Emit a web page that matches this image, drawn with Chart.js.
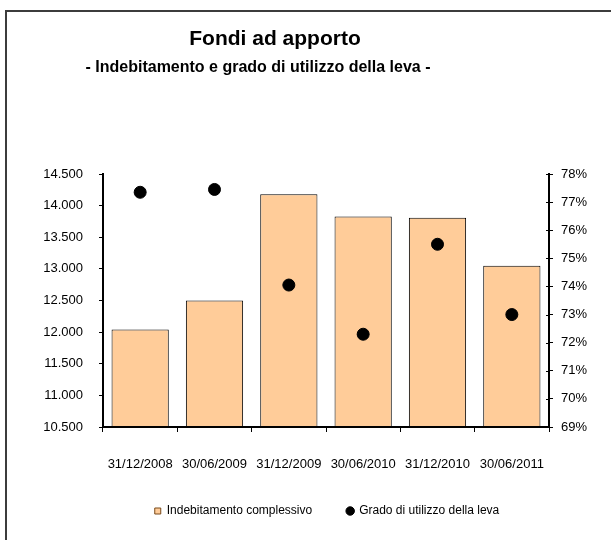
<!DOCTYPE html>
<html>
<head>
<meta charset="utf-8">
<script src="https://cdn.jsdelivr.net/npm/chart.js@4.4.1/dist/chart.umd.min.js"></script>
<style>
  html, body { margin: 0; padding: 0; background: #fff; overflow: hidden; width: 611px; height: 540px; }
  #frame { position: absolute; left: 5px; top: 10px; width: 700px; height: 700px; border: 2px solid #3c3c3c; }
  #c { position: absolute; left: 0; top: 0; }
</style>
</head>
<body>
<div id="frame"></div>
<canvas id="c" width="611" height="540"></canvas>
<script>
// ---- Data ----
const categories = ['31/12/2008', '30/06/2009', '31/12/2009', '30/06/2010', '31/12/2010', '30/06/2011'];
const debtValues = [12040, 12500, 14180, 13830, 13810, 13050];      // Indebitamento complessivo
const leverageValues = [77.35, 77.45, 74.05, 72.3, 75.5, 73.0];     // Grado di utilizzo della leva (%)
const seriesNames = ['Indebitamento complessivo', 'Grado di utilizzo della leva'];
const debtAxisRange = [10500, 14500, 500];
const pctAxisRange = [69, 78, 1];
const titleText = 'Fondi ad apporto';
const subtitleText = '- Indebitamento e grado di utilizzo della leva -';

const FONT = '"Liberation Sans", Arial, sans-serif';

function itNum(v) {
  return String(v).replace(/\B(?=(\d{3})+(?!\d))/g, '.');
}

const titlePlugin = {
  id: 'fixedTitles',
  afterDraw(chart) {
    const ctx = chart.ctx;
    ctx.save();
    ctx.fillStyle = '#000';
    ctx.textAlign = 'center';
    ctx.textBaseline = 'alphabetic';
    ctx.font = 'bold 21px ' + FONT;
    ctx.fillText(titleText, 275, 45);
    ctx.font = 'bold 16px ' + FONT;
    ctx.fillText(subtitleText, 258, 72);
    ctx.restore();
  }
};

// Re-draw axis lines over the bars, and add inner tick halves on the right axis
const axisOnTopPlugin = {
  id: 'axisOnTop',
  afterDatasetsDraw(chart) {
    ['x', 'y', 'y1'].forEach(id => {
      const s = chart.scales[id];
      if (s && typeof s.drawBorder === 'function') s.drawBorder();
    });
    const s = chart.scales.y1;
    const ctx = chart.ctx;
    ctx.save();
    ctx.strokeStyle = '#000';
    ctx.lineWidth = 1;
    s.ticks.forEach((t, i) => {
      const py = Math.round(s.getPixelForTick(i)) + 0.5;
      ctx.beginPath();
      ctx.moveTo(s.left - 3, py);
      ctx.lineTo(s.left, py);
      ctx.stroke();
    });
    ctx.restore();
  }
};

new Chart(document.getElementById('c'), {
  data: {
    labels: categories,
    datasets: [
      {
        type: 'line',
        label: seriesNames[1],
        data: leverageValues,
        yAxisID: 'y1',
        showLine: false,
        pointStyle: 'circle',
        pointRadius: 6,
        pointHoverRadius: 6,
        pointBackgroundColor: '#000',
        pointBorderColor: '#000',
        backgroundColor: '#000',
        borderColor: '#000',
        borderWidth: 1,
        order: 0
      },
      {
        type: 'bar',
        label: seriesNames[0],
        data: debtValues,
        yAxisID: 'y',
        backgroundColor: '#FFCC99',
        borderColor: '#000',
        borderWidth: 1,
        borderSkipped: false,
        barPercentage: 0.77,
        categoryPercentage: 1.0,
        order: 1
      }
    ]
  },
  options: {
    responsive: false,
    animation: false,
    events: [],
    layout: { padding: { top: 174, left: 43, right: 0, bottom: 13 } },
    plugins: {
      title: { display: false },
      tooltip: { enabled: false },
      legend: {
        position: 'bottom',
        reverse: true,
        labels: {
          usePointStyle: true,
          boxWidth: 6,
          boxHeight: 6,
          padding: 35,
          color: '#000',
          font: { family: FONT, size: 12 },
          generateLabels(chart) {
            const items = Chart.defaults.plugins.legend.labels.generateLabels(chart);
            items.forEach(it => {
              const ds = chart.data.datasets[it.datasetIndex];
              if (ds.type === 'bar') {
                it.pointStyle = 'rect';
                it.fillStyle = '#FFCC99';
                it.strokeStyle = '#7a4a1a';
                it.lineWidth = 1;
              } else {
                it.pointStyle = 'circle';
                it.fillStyle = '#000';
                it.strokeStyle = '#000';
              }
            });
            return items;
          }
        }
      }
    },
    scales: {
      x: {
        type: 'category',
        offset: true,
        grid: { display: true, drawOnChartArea: false, drawTicks: true, tickLength: 5, color: '#000', offset: true, lineWidth: 1 },
        border: { display: true, color: '#000', width: 2 },
        ticks: { color: '#000', font: { family: FONT, size: 13 }, padding: 25, maxRotation: 0, autoSkip: false },
        afterFit(scale) { scale.height = 43; }
      },
      y: {
        position: 'left',
        min: debtAxisRange[0],
        max: debtAxisRange[1],
        grid: { display: true, drawOnChartArea: false, drawTicks: true, tickLength: 4, color: '#000', lineWidth: 1 },
        border: { display: true, color: '#000', width: 2 },
        ticks: { stepSize: debtAxisRange[2], color: '#000', font: { family: FONT, size: 13 }, padding: 16, callback: v => itNum(v) },
        afterFit(scale) { scale.width = 60; }
      },
      y1: {
        position: 'right',
        min: pctAxisRange[0],
        max: pctAxisRange[1],
        grid: { display: true, drawOnChartArea: false, drawTicks: true, tickLength: 4, color: '#000', lineWidth: 1 },
        border: { display: true, color: '#000', width: 2 },
        ticks: { stepSize: pctAxisRange[2], color: '#000', font: { family: FONT, size: 13 }, padding: 8, callback: v => v + '%' },
        afterFit(scale) { scale.width = 62; }
      }
    }
  },
  plugins: [titlePlugin, axisOnTopPlugin]
});
</script>
</body>
</html>
